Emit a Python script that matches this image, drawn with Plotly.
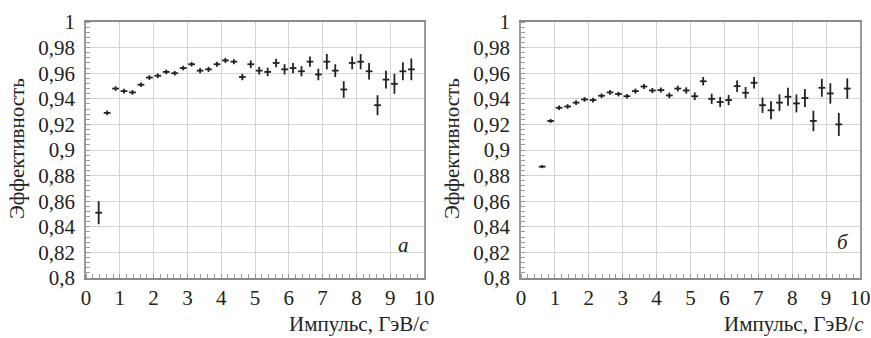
import plotly.graph_objects as go

# ---- data (panel а) ----
x_a = [0.375, 0.625, 0.875, 1.125, 1.375, 1.625, 1.875, 2.125, 2.375, 2.625,
       2.875, 3.125, 3.375, 3.625, 3.875, 4.125, 4.375, 4.625, 4.875, 5.125,
       5.375, 5.625, 5.875, 6.125, 6.375, 6.625, 6.875, 7.125, 7.375, 7.625,
       7.875, 8.125, 8.375, 8.625, 8.875, 9.125, 9.375, 9.625]
y_a = [0.851, 0.929, 0.948, 0.946, 0.945, 0.951, 0.9566, 0.958, 0.961, 0.960,
       0.964, 0.967, 0.962, 0.963, 0.967, 0.970, 0.969, 0.957, 0.967, 0.962,
       0.961, 0.968, 0.963, 0.964, 0.9615, 0.969, 0.959, 0.969, 0.962, 0.9473,
       0.968, 0.969, 0.9615, 0.935, 0.955, 0.9517, 0.9615, 0.963]
e_a = [0.009, 0.0018, 0.0018, 0.0018, 0.0018, 0.0018, 0.0018, 0.0018, 0.0018, 0.0018,
       0.0018, 0.0018, 0.002, 0.002, 0.002, 0.002, 0.002, 0.0025, 0.003, 0.003,
       0.0033, 0.0033, 0.004, 0.004, 0.004, 0.004, 0.0045, 0.006, 0.005, 0.0065,
       0.005, 0.006, 0.0065, 0.0078, 0.007, 0.0078, 0.007, 0.0085]

# ---- data (panel б) ----
x_b = [0.625, 0.875, 1.125, 1.375, 1.625, 1.875, 2.125, 2.375, 2.625, 2.875,
       3.125, 3.375, 3.625, 3.875, 4.125, 4.375, 4.625, 4.875, 5.125, 5.375,
       5.625, 5.875, 6.125, 6.375, 6.625, 6.875, 7.125, 7.375, 7.625, 7.875,
       8.125, 8.375, 8.625, 8.875, 9.125, 9.375, 9.625]
y_b = [0.887, 0.9227, 0.933, 0.934, 0.937, 0.9395, 0.939, 0.9424, 0.945, 0.9437,
       0.942, 0.946, 0.9496, 0.9465, 0.9468, 0.9426, 0.948, 0.9465, 0.942, 0.9537,
       0.940, 0.9375, 0.939, 0.9499, 0.9447, 0.9525, 0.935, 0.931, 0.937, 0.9416,
       0.9364, 0.9406, 0.9227, 0.9486, 0.9442, 0.920, 0.948]
e_b = [0.0012, 0.0015, 0.0018, 0.0018, 0.0018, 0.0018, 0.0018, 0.0018, 0.0018, 0.0018,
       0.0018, 0.002, 0.002, 0.002, 0.002, 0.0022, 0.0022, 0.0025, 0.003, 0.0033,
       0.004, 0.004, 0.004, 0.0045, 0.0045, 0.0045, 0.006, 0.007, 0.0065, 0.007,
       0.007, 0.007, 0.008, 0.007, 0.008, 0.009, 0.008]

x_ticks = [0, 1, 2, 3, 4, 5, 6, 7, 8, 9, 10]
y_ticks = [0.8, 0.82, 0.84, 0.86, 0.88, 0.9, 0.92, 0.94, 0.96, 0.98, 1.0]
y_ticktext = ["0,8", "0,82", "0,84", "0,86", "0,88", "0,9", "0,92", "0,94", "0,96", "0,98", "1"]
y_title = "Эффективность"
x_title = "Импульс, ГэВ/<i>c</i>"
panel_labels = ["<i>а</i>", "<i>б</i>"]

FONT = "Liberation Serif"
INK = "#222222"
FS = 21

fig = go.Figure()


def add_panel(xs, ys, es, xa, ya):
    fig.add_trace(go.Scatter(
        x=xs, y=ys, mode="markers", xaxis=xa, yaxis=ya,
        marker=dict(size=2, color=INK),
        error_y=dict(type="data", array=es, visible=True, width=0, thickness=1.8, color=INK),
        error_x=dict(type="constant", value=0.1, visible=True, width=0, thickness=1.8, color=INK),
        showlegend=False, hoverinfo="x+y",
    ))


add_panel(x_a, y_a, e_a, "x", "y")
add_panel(x_b, y_b, e_b, "x2", "y2")

xcommon = dict(
    range=[0, 10], tickvals=x_ticks, ticktext=[str(v) for v in x_ticks],
    showgrid=True, gridcolor="#d4d4d4", gridwidth=1, zeroline=False,
    showline=True, linecolor="#8a8a8a", linewidth=1.5, mirror=True,
    ticks="", ticklabelstandoff=0, automargin=False,
    minor=dict(dtick=0.2, ticks="inside", ticklen=4, tickcolor="#9a9a9a", showgrid=False),
    tickfont=dict(family=FONT, size=FS, color=INK),
)
ycommon = dict(
    range=[0.8, 1.0], tickvals=y_ticks, ticktext=y_ticktext,
    showgrid=True, gridcolor="#d4d4d4", gridwidth=1, zeroline=False,
    showline=True, linecolor="#9a9a9a", linewidth=1.5, mirror=True,
    ticks="", ticklabelstandoff=5, automargin=False,
    minor=dict(dtick=0.004, ticks="inside", ticklen=4, tickcolor="#9a9a9a", showgrid=False),
    tickfont=dict(family=FONT, size=FS, color=INK),
)

fig.update_layout(
    width=871, height=338,
    margin=dict(l=0, r=0, t=0, b=0, autoexpand=False),
    paper_bgcolor="white", plot_bgcolor="white",
    xaxis=dict(domain=[86 / 871, 424 / 871], anchor="y", **xcommon),
    yaxis=dict(domain=[60 / 338, 316 / 338], anchor="x", **ycommon),
    xaxis2=dict(domain=[521 / 871, 860 / 871], anchor="y2", **xcommon),
    yaxis2=dict(domain=[60 / 338, 316 / 338], anchor="x2", **ycommon),
)

ann = []
for xc, xr in [(17 / 871, 431 / 871), (452 / 871, 866 / 871)]:
    ann.append(dict(xref="paper", yref="paper", x=xc, y=(338 - 149) / 338,
                    text=y_title, textangle=-90, showarrow=False,
                    xanchor="center", yanchor="middle",
                    font=dict(family=FONT, size=FS, color=INK)))
    ann.append(dict(xref="paper", yref="paper", x=xr, y=(338 - 324) / 338,
                    text=x_title, showarrow=False, xanchor="right", yanchor="middle",
                    font=dict(family=FONT, size=FS, color=INK)))
ann.append(dict(xref="x", yref="y", x=9.4, y=0.826, text=panel_labels[0], showarrow=False,
                font=dict(family=FONT, size=FS, color=INK)))
ann.append(dict(xref="x2", yref="y2", x=9.5, y=0.828, text=panel_labels[1], showarrow=False,
                font=dict(family=FONT, size=FS, color=INK)))
fig.update_layout(annotations=ann)

fig.write_html("out.html",
               config={"displayModeBar": False},
               post_script="document.body.style.margin='0';document.body.style.overflow='hidden';")
